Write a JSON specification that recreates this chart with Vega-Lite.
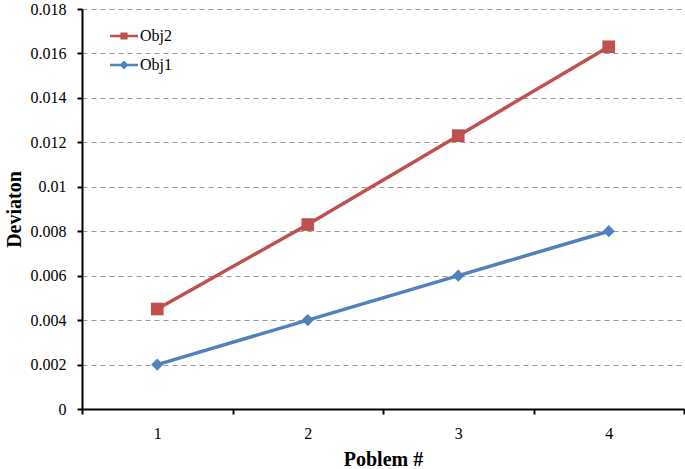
{
  "$schema": "https://vega.github.io/schema/vega-lite/v6.json",
  "width": 602,
  "height": 400,
  "autosize": {"type": "none"},
  "padding": {"left": 82, "top": 9, "right": 1, "bottom": 60},
  "background": "white",
  "config": {
    "view": {"stroke": null},
    "font": "Liberation Serif",
    "axis": {"labelFont": "Liberation Serif", "titleFont": "Liberation Serif", "labelColor": "#000", "titleColor": "#000"},
    "legend": {"labelFont": "Liberation Serif"}
  },
  "data": {
    "values": [
      {"problem": 1, "series": "Obj2", "dev": 0.0045},
      {"problem": 2, "series": "Obj2", "dev": 0.0083},
      {"problem": 3, "series": "Obj2", "dev": 0.0123},
      {"problem": 4, "series": "Obj2", "dev": 0.0163},
      {"problem": 1, "series": "Obj1", "dev": 0.002},
      {"problem": 2, "series": "Obj1", "dev": 0.004},
      {"problem": 3, "series": "Obj1", "dev": 0.006},
      {"problem": 4, "series": "Obj1", "dev": 0.008}
    ]
  },
  "encoding": {
    "x": {
      "field": "problem", "type": "quantitative",
      "scale": {"domain": [0.5, 4.5], "nice": false, "zero": false},
      "axis": {
        "values": [0.5, 1, 1.5, 2, 2.5, 3, 3.5, 4, 4.5],
        "labelExpr": "datum.value % 1 === 0 ? datum.value : ''",
        "tickOpacity": {"condition": {"test": "datum.value % 1 === 0", "value": 0}, "value": 1},
        "grid": false,
        "domainColor": "#000", "domainWidth": 2,
        "tickColor": "#000", "tickWidth": 2, "tickSize": 5,
        "labelFont": "Liberation Serif", "labelFontSize": 16, "labelPadding": 11, "labelFlush": false,
        "title": "Poblem #", "titleFont": "Liberation Serif", "titleFontSize": 20, "titleFontWeight": "bold", "titlePadding": 8
      }
    },
    "y": {
      "field": "dev", "type": "quantitative",
      "scale": {"domain": [0, 0.018], "nice": false},
      "axis": {
        "values": [0, 0.002, 0.004, 0.006, 0.008, 0.01, 0.012, 0.014, 0.016, 0.018],
        "format": "~g",
        "grid": true, "gridDash": [5, 4], "gridColor": "#999", "gridWidth": 1.2,
        "domainColor": "#000", "domainWidth": 2,
        "tickColor": "#000", "tickWidth": 2, "tickSize": 5,
        "labelFont": "Liberation Serif", "labelFontSize": 16, "labelPadding": 11, "labelFlush": false,
        "title": "Deviaton", "titleFont": "Liberation Serif", "titleFontSize": 20, "titleFontWeight": "bold", "titlePadding": 6
      }
    },
    "color": {
      "field": "series", "type": "nominal",
      "scale": {"domain": ["Obj2", "Obj1"], "range": ["#C0504D", "#4F81BD"]},
      "legend": {
        "title": null,
        "orient": "none", "legendX": 34, "legendY": 19,
        "padding": 0,
        "symbolSize": 256,
        "rowPadding": 13,
        "labelOffset": 8,
        "labelFontSize": 16,
        "labelFont": "Liberation Serif",
        "labelColor": "#000",
        "encode": {
          "symbols": {
            "update": {
              "shape": {"signal": "datum.value === 'Obj2' ? 'M-1.75,-0.17H1.75V0.17H-1.75Z M-0.45,-0.45H0.45V0.45H-0.45Z' : 'M-1.75,-0.17H1.75V0.17H-1.75Z M0,-0.55L0.55,0L0,0.55L-0.55,0Z'"},
              "fill": {"signal": "datum.value === 'Obj2' ? '#C0504D' : '#4F81BD'"},
              "stroke": {"value": "transparent"},
              "strokeWidth": {"value": 0},
              "opacity": {"value": 1}
            }
          },
          "labels": {
            "update": {
              "font": {"value": "Liberation Serif"},
              "fontSize": {"value": 16},
              "fill": {"value": "#000"}
            }
          }
        }
      }
    }
  },
  "layer": [
    {"mark": {"type": "line", "strokeWidth": 3.5}},
    {
      "transform": [{"filter": "datum.series === 'Obj2'"}],
      "mark": {"type": "point", "filled": true, "opacity": 1, "shape": "square", "size": 160}
    },
    {
      "transform": [{"filter": "datum.series === 'Obj1'"}],
      "mark": {"type": "point", "filled": true, "opacity": 1, "shape": "diamond", "size": 150}
    }
  ]
}
